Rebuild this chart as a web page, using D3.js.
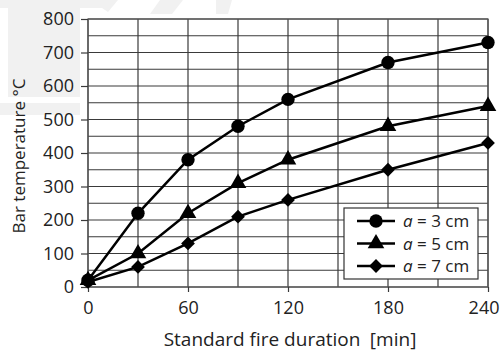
<!DOCTYPE html>
<html>
<head>
<meta charset="utf-8">
<script src="https://cdn.jsdelivr.net/npm/d3@7"></script>
<style>
  body { margin: 0; background: #fff; }
  svg { display: block; font-family: "Open Sans", sans-serif; }
</style>
</head>
<body>
<svg id="chart" width="500" height="351"></svg>
<script>
// fire duration in minutes
const minutes = [0, 30, 60, 90, 120, 180, 240];
// bar temperature for each axis distance a
const temp3cm = [20, 220, 380, 480, 560, 670, 730];
const temp5cm = [20, 100, 220, 310, 380, 480, 540];
const temp7cm = [15, 60, 130, 210, 260, 350, 430];
const seriesNames = ['a = 3 cm', 'a = 5 cm', 'a = 7 cm'];
const xTicks = [0, 60, 120, 180, 240];
const yTicks = [0, 100, 200, 300, 400, 500, 600, 700, 800];

const svg = d3.select('#chart');
const margin = {left: 88, right: 12, top: 19, bottom: 64};
const width = 500 - margin.left - margin.right;
const height = 351 - margin.top - margin.bottom;

// faint background watermark
const wm = svg.append('g').attr('fill', '#f1f1f1');
wm.append('rect').attr('x', 0).attr('y', 0).attr('width', 102).attr('height', 8);
wm.append('rect').attr('x', 8).attr('y', 0).attr('width', 72).attr('height', 97);
wm.append('rect').attr('x', 0).attr('y', 103).attr('width', 80).attr('height', 12);
wm.append('path').attr('d', 'M102,0 L118,0 L108,12 L102,8 Z');
wm.append('path').attr('d', 'M160,0 L183,0 L172,14 L150,14 Z');
wm.append('path').attr('d', 'M216,0 L232,0 L228,14 L216,14 Z');

const g = svg.append('g')
  .attr('transform', 'translate(' + margin.left + ',' + margin.top + ')');

const x = d3.scaleLinear().domain([0, 240]).range([0, width]);
const y = d3.scaleLinear().domain([0, 800]).range([height, 0]);

// grid: every 30 min, every 50 degrees
g.append('g')
  .selectAll('line')
  .data(d3.range(0, 241, 30))
  .enter()
  .append('line')
  .attr('x1', d => x(d)).attr('x2', d => x(d))
  .attr('y1', 0).attr('y2', height)
  .attr('stroke', '#3a3a3a').attr('stroke-width', 1.2);

g.append('g')
  .selectAll('line')
  .data(d3.range(0, 801, 50))
  .enter()
  .append('line')
  .attr('x1', 0).attr('x2', width)
  .attr('y1', d => y(d)).attr('y2', d => y(d))
  .attr('stroke', '#3a3a3a').attr('stroke-width', 1.2);

g.append('rect')
  .attr('width', width).attr('height', height)
  .attr('fill', 'none').attr('stroke', '#555').attr('stroke-width', 1.2);

// axes
const yAxis = g.append('g')
  .call(d3.axisLeft(y).tickValues(yTicks).tickSize(7).tickPadding(7));
const xAxis = g.append('g')
  .attr('transform', 'translate(0,' + height + ')')
  .call(d3.axisBottom(x).tickValues(xTicks).tickSize(5).tickPadding(9));
[yAxis, xAxis].forEach(a => {
  a.select('.domain').remove();
  a.selectAll('line').attr('stroke', '#3a3a3a').attr('stroke-width', 1.2);
  a.selectAll('text')
    .style('font-size', '18px')
    .style('font-family', '"Open Sans", sans-serif')
    .attr('fill', '#222');
});
// last x label sits against the right edge
xAxis.selectAll('text').filter(d => d === 240)
  .attr('text-anchor', 'end').attr('dx', 11);

svg.append('text')
  .attr('transform', 'translate(25,' + (margin.top + height / 2 + 3) + ') rotate(-90)')
  .attr('text-anchor', 'middle')
  .style('font-size', '17px').attr('fill', '#222')
  .text('Bar temperature \u00b0C');

svg.append('text')
  .attr('x', margin.left + width / 2 + 2).attr('y', 346)
  .attr('text-anchor', 'middle')
  .style('font-size', '19px').attr('fill', '#222')
  .text('Standard fire duration\u2002[min]');

const allSeries = [temp3cm, temp5cm, temp7cm];
const symbols = [d3.symbolCircle, d3.symbolTriangle, d3.symbolSquare];
const symSize = [140, 120, 95];
const symRot = [0, 0, 45];

const line = d3.line()
  .x((d, i) => x(minutes[i]))
  .y(d => y(d));

allSeries.forEach((vals, s) => {
  g.append('path')
    .datum(vals)
    .attr('d', line)
    .attr('fill', 'none')
    .attr('stroke', '#000')
    .attr('stroke-width', 2.5);
  g.selectAll('.m' + s)
    .data(vals)
    .enter()
    .append('path')
    .attr('class', 'm' + s)
    .attr('transform', (d, i) => 'translate(' + x(minutes[i]) + ',' + y(d) + ') rotate(' + symRot[s] + ')')
    .attr('d', d3.symbol().type(symbols[s]).size(symSize[s]))
    .attr('fill', '#000');
});

// legend
const lg = svg.append('g').attr('transform', 'translate(344,208)');
lg.append('rect')
  .attr('width', 134).attr('height', 71)
  .attr('fill', '#fff').attr('stroke', '#333').attr('stroke-width', 1.2);
seriesNames.forEach((name, i) => {
  const cy = 13 + i * 22.5;
  lg.append('line')
    .attr('x1', 13).attr('x2', 51)
    .attr('y1', cy).attr('y2', cy)
    .attr('stroke', '#000').attr('stroke-width', 2.5);
  lg.append('path')
    .attr('transform', 'translate(32,' + cy + ') rotate(' + symRot[i] + ')')
    .attr('d', d3.symbol().type(symbols[i]).size(symSize[i]))
    .attr('fill', '#000');
  const t = lg.append('text')
    .attr('x', 59).attr('y', cy + 6)
    .style('font-size', '17px').attr('fill', '#222');
  t.append('tspan').attr('font-style', 'italic').text('a');
  t.append('tspan').text(name.slice(1));
});
</script>
</body>
</html>
